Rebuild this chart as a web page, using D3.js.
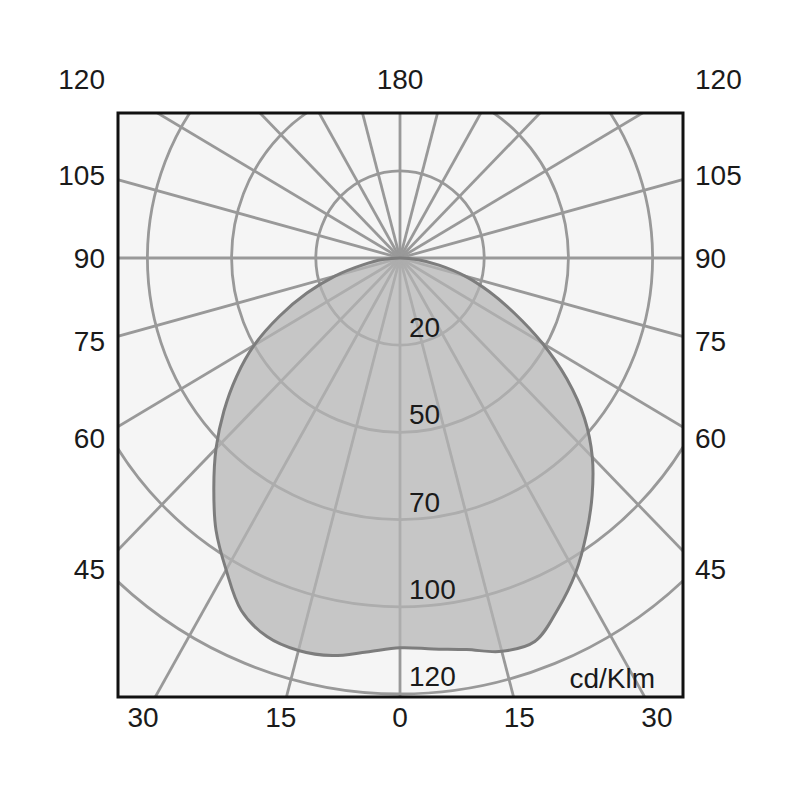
<!DOCTYPE html>
<html>
<head>
<meta charset="utf-8">
<script src="https://cdn.jsdelivr.net/npm/d3@7/dist/d3.min.js"></script>
<style>
  html, body { margin: 0; padding: 0; background: #ffffff; }
  svg { display: block; }
  text { font-family: "Liberation Sans", Arial, Helvetica, sans-serif; fill: #1a1a1a; }
</style>
</head>
<body>
<svg id="chart" width="800" height="800"></svg>
<script>
// ---------- data ----------
const ringValues = [20, 50, 70, 100, 120];          // cd/klm ring labels
const ringUnit = "cd/Klm";
const spokeAngles = [0, 15, 30, 45, 60, 75, 90, 105, 120, 135, 150, 165,
                     180, 195, 210, 225, 240, 255, 270, 285, 300, 315, 330, 345];
const sideLabels = [45, 60, 75, 90, 105, 120];       // left & right columns
const topLabel = 180;
const bottomLabels = [-30, -15, 0, 15, 30];
// luminous intensity curve (angle from nadir, negative = left)
const curveAngles = [-90, -85, -80, -75, -70, -65, -60, -55, -50, -45, -40, -35, -30, -25, -20, -15, -10, -5,
                     0, 5, 10, 15, 20, 25, 30, 35, 40, 45, 50, 55, 60, 65, 70, 75, 80, 85];
const curveValues = [0, 4.2, 8.8, 16, 25.3, 37.4, 50, 57.4, 64.6, 72.7, 83.2, 94.3, 102.6, 109.2, 112.4, 113.2, 112.6, 110.7,
                     109.4, 110, 111.2, 113.4, 113.6, 108.8, 103.4, 95.8, 86.5, 76.9, 67.2, 58.4, 48.5, 35, 23.9, 16, 9.4, 4.4];

// ---------- layout ----------
const cx = 400, cy = 258;
const frame = { x0: 118, y0: 113, x1: 683, y1: 697 };
const ringPxX = 84.2, ringPxY = 87.2;
const fontSize = 28;

const domain = [0].concat(ringValues);
const rX = d3.scaleLinear().domain(domain).range(domain.map((d, i) => i * ringPxX));
const rY = d3.scaleLinear().domain(domain).range(domain.map((d, i) => i * ringPxY));
const rad = a => a * Math.PI / 180;
const px = (v, a) => cx + rX(v) * Math.sin(rad(a));
const py = (v, a) => cy + rY(v) * Math.cos(rad(a));

const svg = d3.select("#chart");

svg.append("defs").append("clipPath").attr("id", "frameClip")
  .append("rect")
  .attr("x", frame.x0).attr("y", frame.y0)
  .attr("width", frame.x1 - frame.x0).attr("height", frame.y1 - frame.y0);

// background
svg.append("rect")
  .attr("x", frame.x0).attr("y", frame.y0)
  .attr("width", frame.x1 - frame.x0).attr("height", frame.y1 - frame.y0)
  .attr("fill", "#f5f5f5");

const grid = svg.append("g").attr("clip-path", "url(#frameClip)");

// rings
grid.selectAll("ellipse.ring").data(ringValues).join("ellipse")
  .attr("class", "ring")
  .attr("cx", cx).attr("cy", cy)
  .attr("rx", d => rX(d)).attr("ry", d => rY(d))
  .attr("fill", "none").attr("stroke", "#999999").attr("stroke-width", 2.8);

// spokes
grid.selectAll("line.spoke").data(spokeAngles).join("line")
  .attr("class", "spoke")
  .attr("x1", cx).attr("y1", cy)
  .attr("x2", d => px(220, d)).attr("y2", d => py(220, d))
  .attr("stroke", "#999999").attr("stroke-width", 2.8);

// curve
const pts = curveAngles.map((a, i) => [px(curveValues[i], a), py(curveValues[i], a)]);
grid.append("path")
  .attr("d", d3.line().curve(d3.curveCatmullRomClosed.alpha(0.5))(pts))
  .attr("fill", "#b4b4b4").attr("fill-opacity", 0.72)
  .attr("stroke", "#7d7d7d").attr("stroke-width", 3).attr("stroke-linejoin", "round");

// frame
svg.append("rect")
  .attr("x", frame.x0).attr("y", frame.y0)
  .attr("width", frame.x1 - frame.x0).attr("height", frame.y1 - frame.y0)
  .attr("fill", "none").attr("stroke", "#111").attr("stroke-width", 3);

// ring labels
svg.selectAll("text.ringLabel").data(ringValues).join("text")
  .attr("class", "ringLabel")
  .attr("x", cx + 9).attr("y", d => cy + rY(d) - 8)
  .attr("font-size", fontSize)
  .text(d => d);

// unit
svg.append("text")
  .attr("x", frame.x1 - 28).attr("y", frame.y1 - 9)
  .attr("text-anchor", "end").attr("font-size", fontSize)
  .text(ringUnit);

// side labels
const sideD = 311;
const sideY = a => cy + sideD / Math.tan(rad(a));
svg.selectAll("text.leftLabel").data(sideLabels).join("text")
  .attr("class", "leftLabel")
  .attr("x", frame.x0 - 13).attr("y", d => sideY(d))
  .attr("dy", "0.36em").attr("text-anchor", "end").attr("font-size", fontSize)
  .text(d => d);
svg.selectAll("text.rightLabel").data(sideLabels).join("text")
  .attr("class", "rightLabel")
  .attr("x", frame.x1 + 12).attr("y", d => sideY(d))
  .attr("dy", "0.36em").attr("text-anchor", "start").attr("font-size", fontSize)
  .text(d => d);

// top label
svg.append("text")
  .attr("x", cx).attr("y", sideY(120))
  .attr("dy", "0.36em").attr("text-anchor", "middle").attr("font-size", fontSize)
  .text(topLabel);

// bottom labels
const botD = 445;
svg.selectAll("text.botLabel").data(bottomLabels).join("text")
  .attr("class", "botLabel")
  .attr("x", d => cx + botD * Math.tan(rad(d)))
  .attr("y", frame.y1 + 20)
  .attr("dy", "0.36em").attr("text-anchor", "middle").attr("font-size", fontSize)
  .text(d => Math.abs(d));
</script>
</body>
</html>
